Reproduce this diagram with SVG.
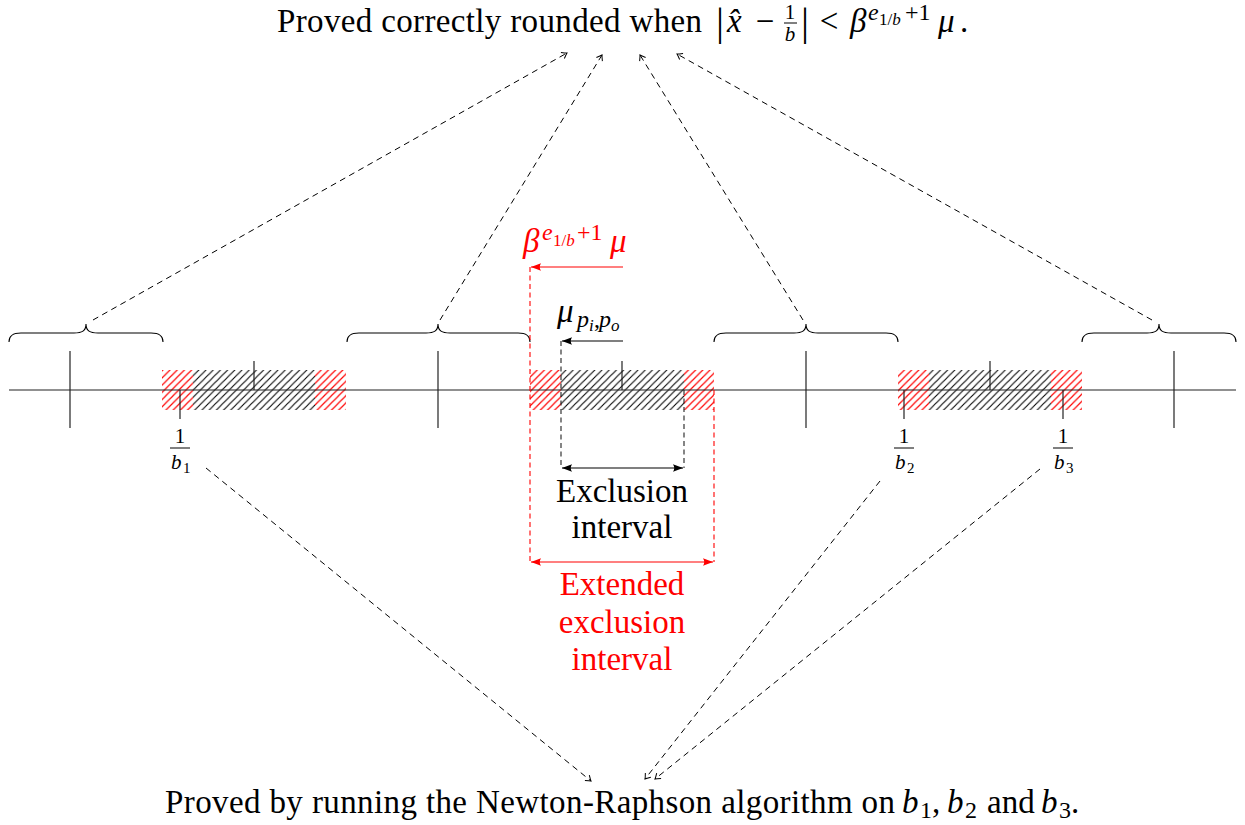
<svg xmlns="http://www.w3.org/2000/svg" width="1245" height="825" viewBox="0 0 1245 825">
<defs>
<style>
.t{font-size:33px;fill:#000}
.i{font-style:italic}
.s{font-size:24px}
.ss{font-size:17px}
.f{font-size:21px}
.fs{font-size:15px}
.red{fill:#ff0000}
.ax{stroke:#222;stroke-width:1.2;fill:none}
.dsh{stroke:#000;stroke-width:1;fill:none;stroke-dasharray:6,4.5}
.dk{stroke:#222;stroke-width:1.1;fill:none;stroke-dasharray:5,3.5}
.dr{stroke:#ff0000;stroke-width:1.1;fill:none;stroke-dasharray:5,3.5}
.ar{stroke:#000;stroke-width:1.1;fill:none}
.arr{stroke:#ff0000;stroke-width:1.1;fill:none}
.br{stroke:#000;stroke-width:1.1;fill:none}
</style>
<pattern id="hb" patternUnits="userSpaceOnUse" width="7.2" height="7.2"><path d="M-1,1 L1,-1 M0,7.2 L7.2,0 M6.2,8.2 L8.2,6.2" stroke="#000" stroke-width="1.1"/></pattern>
<pattern id="hr" patternUnits="userSpaceOnUse" width="7.2" height="7.2"><path d="M-1,1 L1,-1 M0,7.2 L7.2,0 M6.2,8.2 L8.2,6.2" stroke="#ff0000" stroke-width="1.2"/></pattern>
<marker id="tip" viewBox="-7 -5 8 10" refX="0" refY="0" markerWidth="8" markerHeight="10" markerUnits="userSpaceOnUse" orient="auto"><path d="M-5,-3.5 Q-1.5,-0.8 0,0 Q-1.5,0.8 -5,3.5" fill="none" stroke="#000" stroke-width="1" stroke-dasharray="none"/></marker>
<marker id="latB" viewBox="-11 -5 12 10" refX="0" refY="0" markerWidth="12" markerHeight="10" markerUnits="userSpaceOnUse" orient="auto-start-reverse"><path d="M0,0 L-10,-3.8 Q-7.5,0 -10,3.8 Z" fill="#000"/></marker>
<marker id="latR" viewBox="-11 -5 12 10" refX="0" refY="0" markerWidth="12" markerHeight="10" markerUnits="userSpaceOnUse" orient="auto-start-reverse"><path d="M0,0 L-10,-3.8 Q-7.5,0 -10,3.8 Z" fill="#ff0000"/></marker>
</defs>
<rect width="1245" height="825" fill="#fff"/>

<g id="hatches">
<rect x="162" y="370" width="31" height="40" fill="url(#hr)"/>
<rect x="193" y="370" width="122" height="40" fill="url(#hb)"/>
<rect x="315" y="370" width="31" height="40" fill="url(#hr)"/>
<rect x="530" y="370" width="31" height="40" fill="url(#hr)"/>
<rect x="561" y="370" width="123" height="40" fill="url(#hb)"/>
<rect x="684" y="370" width="30" height="40" fill="url(#hr)"/>
<rect x="898" y="370" width="31" height="40" fill="url(#hr)"/>
<rect x="929" y="370" width="122" height="40" fill="url(#hb)"/>
<rect x="1051" y="370" width="31" height="40" fill="url(#hr)"/>
</g>

<g id="axis">
<line class="ax" x1="9" y1="390" x2="1236" y2="390"/>
<line class="ax" x1="70" y1="351" x2="70" y2="428"/>
<line class="ax" x1="438" y1="351" x2="438" y2="428"/>
<line class="ax" x1="806" y1="351" x2="806" y2="428"/>
<line class="ax" x1="1174" y1="351" x2="1174" y2="428"/>
<line class="ax" x1="254" y1="361" x2="254" y2="390"/>
<line class="ax" x1="622" y1="361" x2="622" y2="390"/>
<line class="ax" x1="990" y1="361" x2="990" y2="390"/>
<line class="ax" x1="180" y1="390" x2="180" y2="419"/>
<line class="ax" x1="904" y1="390" x2="904" y2="419"/>
<line class="ax" x1="1063" y1="390" x2="1063" y2="419"/>
</g>

<g id="braces">
<path class="br" d="M9,342 C9,336 12,333 21,333 L74,333 C82,333 86,331 86,324 C86,331 90,333 98,333 L151,333 C160,333 163,336 163,342"/>
<path class="br" d="M347,342 C347,336 350,333 359,333 L426,333 C434,333 438,331 438,324 C438,331 442,333 450,333 L518,333 C527,333 530,336 530,342"/>
<path class="br" d="M714,342 C714,336 717,333 726,333 L794,333 C802,333 806,331 806,324 C806,331 810,333 818,333 L886,333 C895,333 898,336 898,342"/>
<path class="br" d="M1082,342 C1082,336 1085,333 1094,333 L1147,333 C1155,333 1159,331 1159,324 C1159,331 1163,333 1171,333 L1224,333 C1233,333 1236,336 1236,342"/>
</g>

<g id="connectors">
<line class="dsh" x1="93" y1="320" x2="567" y2="53" marker-end="url(#tip)"/>
<line class="dsh" x1="440" y1="320" x2="602" y2="55" marker-end="url(#tip)"/>
<line class="dsh" x1="803" y1="320" x2="640" y2="55" marker-end="url(#tip)"/>
<line class="dsh" x1="1152" y1="320" x2="677" y2="54" marker-end="url(#tip)"/>
<line class="dsh" x1="206" y1="468" x2="591" y2="781" marker-end="url(#tip)"/>
<line class="dsh" x1="880" y1="481" x2="645" y2="779" marker-end="url(#tip)"/>
<line class="dsh" x1="1040" y1="469" x2="655" y2="779" marker-end="url(#tip)"/>
<line class="dr" x1="530" y1="267" x2="530" y2="562"/>
<line class="dr" x1="714" y1="390" x2="714" y2="562"/>
<line class="dk" x1="561" y1="341" x2="561" y2="468"/>
<line class="dk" x1="684" y1="390" x2="684" y2="468"/>
<line class="arr" x1="623" y1="267" x2="531" y2="267" marker-end="url(#latR)"/>
<line class="ar" x1="623" y1="341" x2="562" y2="341" marker-end="url(#latB)"/>
<line class="ar" x1="562" y1="468" x2="683" y2="468" marker-start="url(#latB)" marker-end="url(#latB)"/>
<line class="arr" x1="531" y1="562" x2="713" y2="562" marker-start="url(#latR)" marker-end="url(#latR)"/>
</g>

<g font-family="Liberation Serif, serif">
<g id="title">
<text class="t" x="277" y="32" textLength="425" lengthAdjust="spacing">Proved correctly rounded when</text>
<text class="t" x="716" y="35" style="font-size:40px">|</text>
<text class="t i" x="727" y="32">x̂</text>
<text class="t" x="765" y="32" text-anchor="middle">−</text>
<text class="t f" x="790" y="19" text-anchor="middle">1</text>
<line x1="784" y1="23" x2="797" y2="23" stroke="#000" stroke-width="1"/>
<text class="t f i" x="790" y="41" text-anchor="middle">b</text>
<text class="t" x="801" y="35" style="font-size:40px">|</text>
<text class="t" x="829" y="32" text-anchor="middle">&lt;</text>
<text class="t i" x="850" y="32">β</text>
<text class="t s i" x="868" y="20">e</text>
<text class="t ss" x="879" y="25">1/<tspan class="i">b</tspan></text>
<text class="t s" x="905" y="20">+1</text>
<text class="t i" x="938" y="32">μ</text>
<text class="t" x="960" y="32">.</text>
</g>

<g id="redlabel">
<text class="t i red" x="523" y="252">β</text>
<text class="t s i red" x="542" y="240">e</text>
<text class="t ss red" x="553" y="246">1/<tspan class="i">b</tspan></text>
<text class="t s red" x="577" y="240">+1</text>
<text class="t i red" x="610" y="252">μ</text>
</g>

<g id="mulabel">
<text class="t i" x="557" y="322">μ</text>
<text class="t s i" x="577" y="327">p</text>
<text class="t ss i" x="589" y="331">i</text>
<text class="t s" x="594" y="327">,</text>
<text class="t s i" x="599" y="327">p</text>
<text class="t ss i" x="611" y="331">o</text>
</g>

<g id="frac-b1">
<text class="t f" x="180" y="443" text-anchor="middle">1</text>
<line x1="170" y1="448" x2="190" y2="448" stroke="#000" stroke-width="1"/>
<text class="t f i" x="171" y="469">b</text>
<text class="t fs" x="183" y="473">1</text>
</g>
<g id="frac-b2">
<text class="t f" x="904" y="443" text-anchor="middle">1</text>
<line x1="894" y1="448" x2="914" y2="448" stroke="#000" stroke-width="1"/>
<text class="t f i" x="895" y="469">b</text>
<text class="t fs" x="907" y="473">2</text>
</g>
<g id="frac-b3">
<text class="t f" x="1063" y="443" text-anchor="middle">1</text>
<line x1="1053" y1="448" x2="1073" y2="448" stroke="#000" stroke-width="1"/>
<text class="t f i" x="1054" y="469">b</text>
<text class="t fs" x="1066" y="473">3</text>
</g>

<g id="exclusion">
<text class="t" x="622" y="502" text-anchor="middle">Exclusion</text>
<text class="t" x="622" y="538" text-anchor="middle">interval</text>
</g>
<g id="extended">
<text class="t red" x="622" y="595" text-anchor="middle">Extended</text>
<text class="t red" x="622" y="633" text-anchor="middle">exclusion</text>
<text class="t red" x="622" y="670" text-anchor="middle">interval</text>
</g>

<g id="bottom">
<text class="t" x="165" y="813" textLength="730" lengthAdjust="spacing">Proved by running the Newton-Raphson algorithm on</text>
<text class="t i" x="902" y="813">b</text>
<text class="t s" x="920" y="818">1</text>
<text class="t" x="932" y="813">,</text>
<text class="t i" x="947" y="813">b</text>
<text class="t s" x="965" y="818">2</text>
<text class="t" x="987" y="813">and</text>
<text class="t i" x="1041" y="813">b</text>
<text class="t s" x="1059" y="818">3</text>
<text class="t" x="1071" y="813">.</text>
</g>
</g>
</svg>
